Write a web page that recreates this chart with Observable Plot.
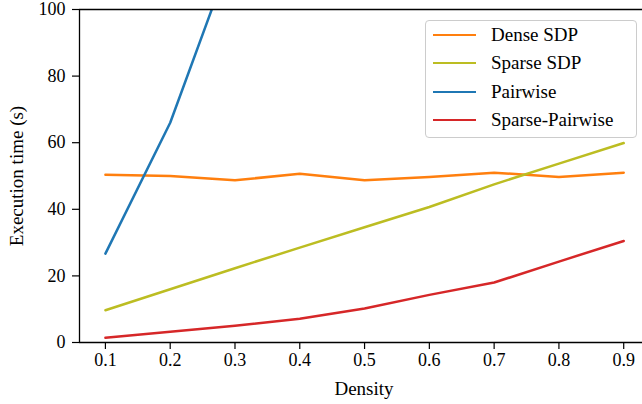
<!DOCTYPE html>
<html><head><meta charset="utf-8">
<script src="https://cdn.jsdelivr.net/npm/d3@7"></script>
<script src="https://cdn.jsdelivr.net/npm/@observablehq/plot@0.6"></script>
<style>
body{margin:0;background:#fff;}
#wrap{position:relative;width:642px;height:404px;overflow:hidden;}
#wrap svg, #wrap svg text{font-family:"Liberation Serif", serif !important;}
.legend{position:absolute;left:425px;top:20px;width:212px;height:118px;box-sizing:border-box;border:1px solid #ccc;border-radius:4px;background:rgba(255,255,255,0.8);font-family:"Liberation Serif",serif;font-size:19px;color:#000;}
.legend .row{position:absolute;left:0;height:0;}
.legend .sw{position:absolute;left:7px;width:43px;height:2.5px;top:-1.25px;}
.legend .lb{position:absolute;left:65px;top:-12px;line-height:24px;white-space:nowrap;}
</style></head>
<body><div id="wrap"></div>
<script>
const density = [0.1, 0.2, 0.3, 0.4, 0.5, 0.6, 0.7, 0.8, 0.9];
const denseSDP = [50.4, 50.0, 48.7, 50.7, 48.7, 49.7, 51.0, 49.7, 51.0];
const sparseSDP = [9.7, 16.0, 22.3, 28.5, 34.6, 40.7, 47.5, 53.7, 59.9];
const pairwiseDensity = [0.1, 0.2, 0.3];
const pairwise = [26.7, 66.0, 119.0];
const sparsePairwise = [1.4, 3.2, 5.0, 7.1, 10.2, 14.3, 18.0, 24.3, 30.5];
const seriesNames = ["Dense SDP", "Sparse SDP", "Pairwise", "Sparse-Pairwise"];
const seriesColors = ["#ff7f0e", "#bcbd22", "#1f77b4", "#d62728"];
const xTicks = [0.1, 0.2, 0.3, 0.4, 0.5, 0.6, 0.7, 0.8, 0.9];
const yTicks = [0, 20, 40, 60, 80, 100];

const rows = [];
density.forEach((d, i) => rows.push({s: seriesNames[0], x: d, y: denseSDP[i]}));
density.forEach((d, i) => rows.push({s: seriesNames[1], x: d, y: sparseSDP[i]}));
pairwiseDensity.forEach((d, i) => rows.push({s: seriesNames[2], x: d, y: pairwise[i]}));
density.forEach((d, i) => rows.push({s: seriesNames[3], x: d, y: sparsePairwise[i]}));

const xDomain = [0.06, 0.929];
const font = "Liberation Serif";

const chart = Plot.plot({
  width: 642, height: 404,
  marginLeft: 79, marginRight: 0, marginTop: 9, marginBottom: 62,
  style: {fontFamily: font, fontSize: "18px", color: "#000", background: "#fff"},
  x: {domain: xDomain},
  y: {domain: [0, 100]},
  color: {domain: seriesNames, range: seriesColors},
  marks: [
    Plot.axisX({ticks: xTicks, tickFormat: d3.format(".1f"), tickSize: 7, tickPadding: 4, label: null, fontSize: 18, fontFamily: font, strokeWidth: 1.2}),
    Plot.axisY({ticks: yTicks, tickSize: 7, tickPadding: 7, label: null, fontSize: 18, fontFamily: font, strokeWidth: 1.2}),
    Plot.lineY(rows, {x: "x", y: "y", z: "s", stroke: "s", strokeWidth: 2.5, clip: true}),
    Plot.ruleX([xDomain[0]], {stroke: "#000", strokeWidth: 1.3}),
    Plot.ruleY([0, 100], {stroke: "#000", strokeWidth: 1.3}),
    Plot.text(["Density"], {frameAnchor: "bottom", dy: 46, dx: 3, fontSize: 19, fontFamily: font, lineAnchor: "middle"}),
    Plot.text(["Execution time (s)"], {frameAnchor: "left", dx: -63, rotate: -90, fontSize: 19, fontFamily: font, lineAnchor: "middle", textAnchor: "middle"})
  ]
});
const wrap = document.getElementById("wrap");
wrap.appendChild(chart);

const leg = document.createElement("div");
leg.className = "legend";
const rowTops = [14, 42, 71, 99];
seriesNames.forEach((n, i) => {
  const r = document.createElement("div");
  r.className = "row";
  r.style.top = rowTops[i] + "px";
  r.innerHTML = `<div class="sw" style="background:${seriesColors[i]}"></div><div class="lb">${n}</div>`;
  leg.appendChild(r);
});
wrap.appendChild(leg);
</script></body></html>
